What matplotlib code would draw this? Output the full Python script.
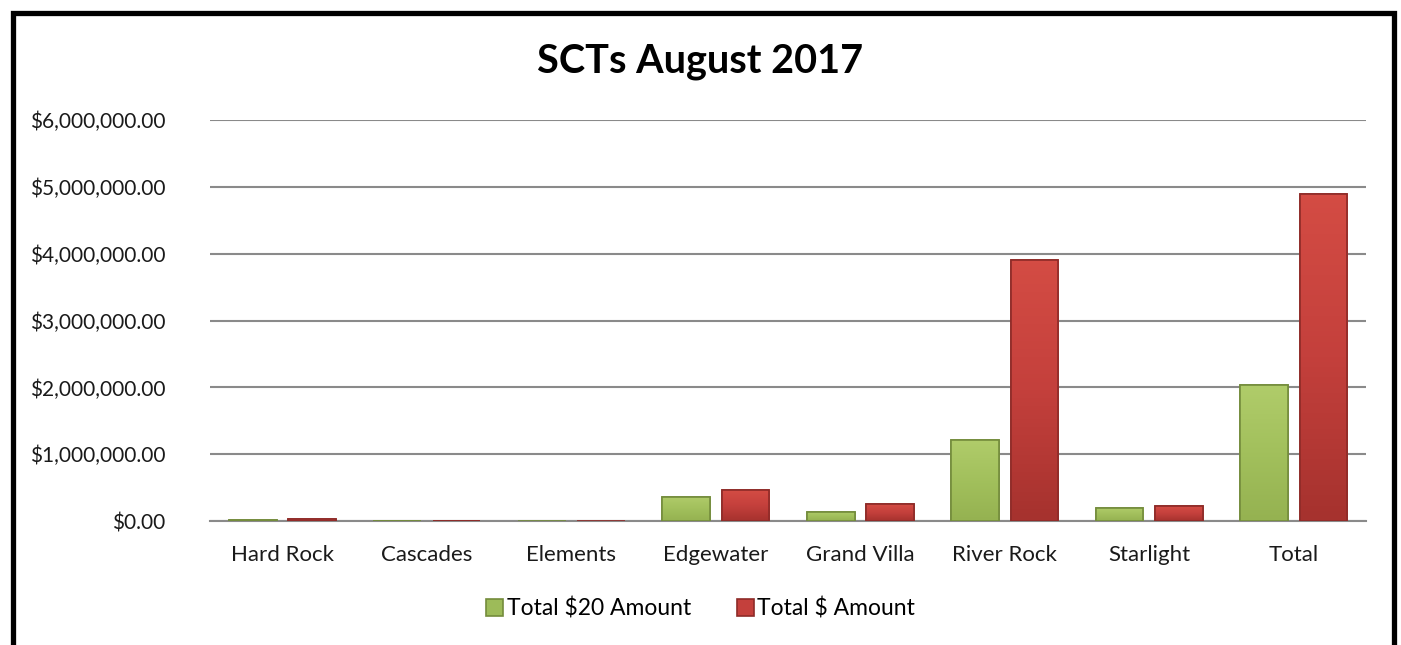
import numpy as np
import matplotlib.pyplot as plt
from matplotlib.patches import Rectangle
from matplotlib.colors import LinearSegmentedColormap
from matplotlib.ticker import FuncFormatter

plt.rcParams["font.family"] = ["Lato", "DejaVu Sans"]

# data
casinos = ["Hard Rock", "Cascades", "Elements", "Edgewater", "Grand Villa",
           "River Rock", "Starlight", "Total"]
total_20 = [15000, 2000, 0, 360000, 140000, 1210000, 200000, 2040000]
total_all = [30000, 6000, 0, 460000, 250000, 3910000, 220000, 4900000]

GREEN = "#9dbb59"
GREEN_EDGE = "#748c3c"
RED = "#c4403c"
RED_EDGE = "#8e2b28"

fig = plt.figure(figsize=(14.01, 6.45), dpi=100)
ax = fig.add_axes([0.150, 0.192, 0.825, 0.622])

x = np.arange(len(casinos))
w = 0.33
off = 0.205
b1 = ax.bar(x - off, total_20, width=w, color=GREEN, edgecolor=GREEN_EDGE,
            linewidth=1.2, label="Total $20 Amount", zorder=3)
b2 = ax.bar(x + off, total_all, width=w, color=RED, edgecolor=RED_EDGE,
            linewidth=1.2, label="Total $ Amount", zorder=3)

# soft shading on bars, a bit like the Excel bevel look (light top, darker bottom)
shades = [(b1, ["#b0cc6a", "#a2c05c", "#95b251"]),
          (b2, ["#d44c44", "#c4403c", "#a6322e"])]
for bars, cols in shades:
    cmap = LinearSegmentedColormap.from_list("sh", cols)
    grad = np.linspace(0, 1, 64).reshape(-1, 1)
    for p in bars:
        if p.get_height() <= 0:
            continue
        x0, y0 = p.get_x(), p.get_y()
        im = ax.imshow(grad, cmap=cmap, aspect="auto", zorder=3.5,
                       extent=(x0, x0 + p.get_width(), y0, y0 + p.get_height()))
        im.set_clip_path(p)
        edge = Rectangle((x0, y0), p.get_width(), p.get_height(), fill=False,
                         edgecolor=p.get_edgecolor(), linewidth=1.2, zorder=4)
        ax.add_patch(edge)
ax.set_xlim(-0.5, len(casinos) - 0.5)
ax.set_ylim(0, 6000000)

ax.set_yticks(np.arange(0, 6000001, 1000000))
ax.yaxis.set_major_formatter(FuncFormatter(lambda v, p: f"${v:,.2f}"))
ax.set_xticks(x)
ax.set_xticklabels(casinos)
ax.tick_params(axis="both", length=0, colors="#1a1a1a")
ax.tick_params(axis="y", pad=32, labelsize=15)
ax.tick_params(axis="x", pad=17, labelsize=16)

ax.grid(axis="y", color="#8a8a8a", linewidth=1.5, zorder=0)
for s in ["top", "right", "left"]:
    ax.spines[s].set_visible(False)
ax.spines["bottom"].set_color("#8a8a8a")
ax.spines["bottom"].set_linewidth(1.5)

fig.text(0.5, 0.905, "SCTs August 2017", ha="center", va="center",
         fontsize=28.5, fontweight="bold", color="black")

fig.legend(handles=[b1, b2], loc="center", bbox_to_anchor=(0.5, 0.057), ncol=2,
           frameon=False, fontsize=16.5, handlelength=0.75, handleheight=0.75,
           handletextpad=0.15, columnspacing=2.0)

# black frame around the chart area
fig.patches.append(Rectangle((12.5 / 1401, -0.05), (1394 - 12.5) / 1401, 1.05 - 12.5 / 645,
                             transform=fig.transFigure, fill=False,
                             edgecolor="black", linewidth=3.8))

fig.savefig("out.png", dpi=100, facecolor="white")
